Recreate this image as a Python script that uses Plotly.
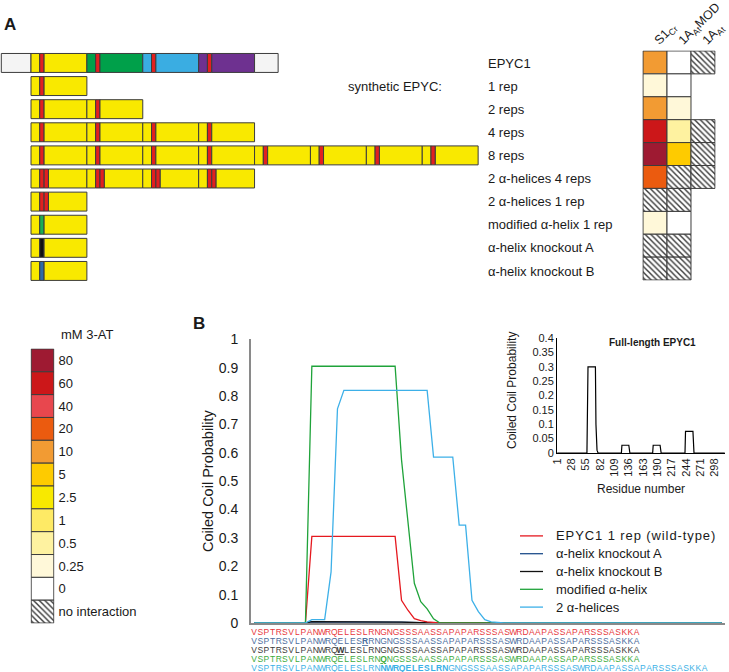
import plotly.graph_objects as go

W, H = 729, 672
def fx(p):
    return p / W
def fy(p):
    return 1 - p / H

FONT = "Liberation Sans, Arial, sans-serif"
TXT = "#1a1a1a"

# ---------------- Panel A: construct diagrams ----------------
construct_names = ["EPYC1", "1 rep", "2 reps", "4 reps", "8 reps",
                   "2 α-helices 4 reps", "2 α-helices 1 rep",
                   "modified α-helix 1 rep", "α-helix knockout A", "α-helix knockout B"]
construct_repeats = [4, 1, 2, 4, 8, 4, 1, 1, 1, 1]
construct_helix = ["wt", "wt", "wt", "wt", "wt", "double", "double", "modified", "koA", "koB"]
epyc1_domain_colors = ["yellow", "green", "blue", "purple"]
nterm_len, cterm_len = 34, 27          # residues
head_len, helix_len, body_len = 10, 5, 49

# ---------------- Panel A: yeast two-hybrid heatmap ----------------
heat_columns = ["S1<sub>Cr</sub>", "1A<sub>At</sub>MOD", "1A<sub>At</sub>"]
heat_s1cr = ["10", "0.25", "10", "60", "80", "20", "NI", "0.25", "NI", "NI"]
heat_1aatmod = ["0", "0", "0.25", "0.5", "5", "NI", "NI", "0", "NI", "NI"]
heat_1aat = ["NI", None, None, "NI", "NI", "NI", None, None, None, None]

key_levels = ["80", "60", "40", "20", "10", "5", "2.5", "1", "0.5", "0.25", "0", "no interaction"]
key_colors = ["#9E1A32", "#CC1719", "#E8474E", "#EB5B0F", "#F29B33", "#FECB00",
              "#F8E900", "#FEEA65", "#FEF2A0", "#FFF8D9", "#FFFFFF"]

# ---------------- Panel B: coiled-coil predictions (residue index, probability) ----------------
wt_x = [1, 9, 10, 23, 24, 25, 26, 27, 28, 29, 30, 74]
wt_y = [0, 0, 0.305, 0.305, 0.08, 0.045, 0.015, 0.008, 0.004, 0.001, 0, 0]
koA_x = [1, 9, 10, 23, 24, 27, 30, 74]
koA_y = [0, 0, 0.004, 0.004, 0.003, 0.001, 0, 0]
koB_x = [1, 9, 10, 23, 24, 27, 30, 74]
koB_y = [0, 0, 0.005, 0.005, 0.003, 0.001, 0, 0]
mod_x = [1, 9, 10, 23, 24, 25, 26, 27, 28, 29, 30, 74]
mod_y = [0, 0, 0.905, 0.905, 0.575, 0.35, 0.14, 0.075, 0.05, 0.015, 0, 0]
two_x = [1, 9, 10, 12, 13, 14, 15, 28, 29, 32, 33, 34, 35, 36, 37, 38, 40, 74]
two_y = [0, 0, 0.012, 0.012, 0.18, 0.755, 0.82, 0.82, 0.585, 0.585, 0.345, 0.345,
         0.08, 0.04, 0.012, 0.004, 0, 0]
series_names = ["EPYC1 1 rep (wild-type)", "α-helix knockout A", "α-helix knockout B",
                "modified α-helix", "2 α-helices"]

# inset: full-length EPYC1
full_x = [1, 30, 33, 44, 47, 57, 59, 73, 74, 76, 78, 122, 123, 136, 138,
          181, 182, 195, 197, 242, 243, 257, 259, 317]
full_y = [0, 0, 0.002, 0.002, 0, 0, 0.3, 0.3, 0.1, 0.01, 0, 0, 0.027, 0.027, 0,
          0, 0.027, 0.027, 0, 0, 0.075, 0.075, 0, 0]
full_ticks = [1, 28, 55, 82, 109, 136, 163, 190, 217, 244, 271, 298]

# sequences
seq_wt = "VSPTRSVLPANWRQELESLRNGNGSSSAASSAPAPARSSSASWRDAAPASSAPARSSSASKKA"
seq_koA = "VSPTRSVLPANWRQELESRRNGNGSSSAASSAPAPARSSSASWRDAAPASSAPARSSSASKKA"
seq_koB = "VSPTRSVLPANWRQWLESLRNGNGSSSAASSAPAPARSSSASWRDAAPASSAPARSSSASKKA"
seq_mod = "VSPTRSVLPANWRQELESLRNQNGSSSAASSAPAPARSSSASWRDAAPASSAPARSSSASKKA"
seq_two = "VSPTRSVLPANWRQELESLRNNWRQELESLRNGNGSSSAASSAPAPARSSSASWRDAAPASSAPARSSSASKKA"
seq_list = [seq_wt, seq_koA, seq_koB, seq_mod, seq_two]
seq_mutations = [[], [19], [15], [22], list(range(22, 33))]

# ---------------- styles ----------------
PAL = {"white": "#F4F4F4", "yellow": "#F9E900", "red": "#E2201F", "green": "#00A04A",
       "blue": "#3AADE2", "purple": "#6E3190", "helixmod": "#1BAE54",
       "black": "#121212", "steel": "#2E6BA6"}
HELIX = {"wt": ["red"], "double": ["red", "red"], "modified": ["helixmod"],
         "koA": ["black"], "koB": ["steel"]}
LINE_COLORS = ["#E5191F", "#1F4E8C", "#111111", "#1FA33A", "#3DB0E8"]
SEQ_COLORS = ["#E8373C", "#4D6E9E", "#3a3a3a", "#3CAB3C", "#3BB1E6"]
EDGE = "#3c3c3c"

fig = go.Figure()

# construct bars
for r, (n_rep, htype) in enumerate(zip(construct_repeats, construct_helix)):
    bases, lens, cols = [], [], []
    full = construct_names[r] == "EPYC1"
    pos = 0
    if full:
        bases.append(-nterm_len); lens.append(nterm_len); cols.append(PAL["white"])
    for k in range(n_rep):
        dom = epyc1_domain_colors[k] if full else "yellow"
        helices = HELIX[htype]
        segs = [(dom, head_len)] + [(h, helix_len) for h in helices] + \
               [(dom, body_len - helix_len * (len(helices) - 1))]
        for c, L in segs:
            bases.append(pos); lens.append(L); cols.append(PAL[c]); pos += L
    if full:
        bases.append(pos); lens.append(cterm_len); cols.append(PAL["white"])
    fig.add_trace(go.Bar(orientation="h", y=[r] * len(bases), x=lens, base=bases,
                         marker=dict(color=cols, line=dict(color=EDGE, width=1)),
                         width=0.82, xaxis="x4", yaxis="y4", showlegend=False,
                         hoverinfo="skip"))

# heatmap cells
level_color = dict(zip(key_levels[:-1], key_colors))
fb, fyy, fc, hb, hy = [], [], [], [], []
for c, col in enumerate([heat_s1cr, heat_1aatmod, heat_1aat]):
    for r, v in enumerate(col):
        if v is None:
            continue
        if v == "NI":
            hb.append(c); hy.append(r)
        else:
            fb.append(c); fyy.append(r); fc.append(level_color[v])
fig.add_trace(go.Bar(orientation="h", y=fyy, x=[1] * len(fb), base=fb,
                     marker=dict(color=fc, line=dict(color=EDGE, width=1)), width=1,
                     xaxis="x5", yaxis="y5", showlegend=False, hoverinfo="skip"))
HATCH = dict(shape="\\", fgcolor="#3a3a3a", bgcolor="white", size=4, solidity=0.35)
fig.add_trace(go.Bar(orientation="h", y=hy, x=[1] * len(hb), base=hb,
                     marker=dict(color="white", pattern=HATCH, line=dict(color=EDGE, width=1)),
                     width=1, xaxis="x5", yaxis="y5", showlegend=False, hoverinfo="skip"))

# colour key
nk = len(key_colors)
fig.add_trace(go.Bar(orientation="h", y=list(range(nk)), x=[1] * nk, base=[0] * nk,
                     marker=dict(color=key_colors, line=dict(color=EDGE, width=1)), width=1,
                     xaxis="x6", yaxis="y6", showlegend=False, hoverinfo="skip"))
fig.add_trace(go.Bar(orientation="h", y=[nk], x=[1], base=[0],
                     marker=dict(color="white", pattern=HATCH, line=dict(color=EDGE, width=1)),
                     width=1, xaxis="x6", yaxis="y6", showlegend=False, hoverinfo="skip"))

# main coiled coil lines (light blue drawn last)
series = [(koA_x, koA_y, 1), (koB_x, koB_y, 2), (wt_x, wt_y, 0), (mod_x, mod_y, 3), (two_x, two_y, 4)]
for xs, ys, i in series:
    fig.add_trace(go.Scatter(x=xs, y=ys, mode="lines", name=series_names[i],
                             line=dict(color=LINE_COLORS[i], width=1.3),
                             showlegend=False, xaxis="x", yaxis="y", hoverinfo="skip"))

# manual legend (line samples + labels)
for i, name in enumerate(series_names):
    fig.add_trace(go.Scatter(x=[0, 1], y=[i, i], mode="lines",
                             line=dict(color=LINE_COLORS[i], width=1.3),
                             showlegend=False, xaxis="x7", yaxis="y7", hoverinfo="skip"))

# inset
fig.add_trace(go.Scatter(x=full_x, y=full_y, mode="lines", line=dict(color="black", width=1.2),
                         xaxis="x2", yaxis="y2", showlegend=False, hoverinfo="skip"))

# sequences
for k, (s, muts) in enumerate(zip(seq_list, seq_mutations)):
    chars = []
    for i, ch in enumerate(s, start=1):
        chars.append(f"<b><u>{ch}</u></b>" if i in muts else ch)
    fig.add_trace(go.Scatter(x=list(range(1, len(s) + 1)), y=[k] * len(s), mode="text",
                             text=chars, textposition="middle center",
                             textfont=dict(color=SEQ_COLORS[k], size=8.5, family=FONT),
                             xaxis="x3", yaxis="y3", showlegend=False, hoverinfo="skip",
                             cliponaxis=False))

ax0 = dict(showgrid=False, zeroline=False, fixedrange=True, automargin=False)
hidden = dict(ax0, visible=False)

legend_labels = [f'<span style="letter-spacing:0.9px">{series_names[0]}</span>'] + series_names[1:]
legend_annots = [dict(text=lab, x=fx(554), y=i, xref="paper", yref="y7",
                      xanchor="left", yanchor="middle", showarrow=False, font=dict(size=13))
                 for i, lab in enumerate(legend_labels)]

char_px = 6.17
seq_pitch = 9.0
seq_top = 628.5
fig.update_layout(
    template="none",
    width=W, height=H, margin=dict(l=0, r=0, t=0, b=0, autoexpand=False),
    paper_bgcolor="white", plot_bgcolor="rgba(0,0,0,0)",
    font=dict(family=FONT, color=TXT, size=13),
    barmode="overlay", bargap=0,
    showlegend=False,
    xaxis=dict(ax0, domain=[fx(251), fx(725)], range=[0.5, 74.5], showline=True,
               linecolor="#8a8a8a", linewidth=2, showticklabels=False, ticks="", anchor="y"),
    yaxis=dict(ax0, domain=[fy(623), fy(339)], range=[0, 1.001], showline=True,
               linecolor="#8a8a8a", linewidth=2, ticks="",
               tickvals=[i / 10 for i in range(11)],
               ticktext=["0"] + [f"0.{i}" for i in range(1, 10)] + ["1"],
               tickfont=dict(size=14), ticklabelstandoff=8, anchor="x"),
    xaxis2=dict(ax0, domain=[fx(557), fx(725)], range=[0.5, 317.5], showline=True,
                linecolor="black", linewidth=1, ticks="", tickvals=full_ticks,
                tickangle=-90, tickfont=dict(size=11), anchor="y2"),
    yaxis2=dict(ax0, domain=[fy(453), fy(338)], range=[0, 0.4005], showline=True,
                linecolor="black", linewidth=1, ticks="",
                tickvals=[i * 0.05 for i in range(9)],
                ticktext=["0", "0.05", "0.1", "0.15", "0.2", "0.25", "0.3", "0.35", "0.4"],
                tickfont=dict(size=11), anchor="x2"),
    xaxis3=dict(hidden, domain=[fx(251), fx(725)], range=[0.5, 0.5 + 474 / char_px], anchor="y3"),
    yaxis3=dict(hidden, domain=[0, fy(seq_top)],
                range=[-0.5 + (H - seq_top) / seq_pitch, -0.5], anchor="x3"),
    xaxis4=dict(hidden, domain=[0, fx(479)], range=[-35.5, 513], anchor="y4"),
    yaxis4=dict(ax0, domain=[fy(282.5), fy(51.4)], range=[9.5, -0.5], side="right",
                showline=False, ticks="", tickvals=list(range(10)), ticktext=construct_names,
                tickfont=dict(size=13), ticklabelstandoff=8, anchor="x4"),
    xaxis5=dict(ax0, domain=[fx(642.3), fx(715.7)], range=[-0.03, 3.03], side="top",
                showline=False, ticks="", tickvals=[0.5, 1.5, 2.5], ticktext=heat_columns,
                tickangle=-45, tickfont=dict(size=12.5), anchor="y5"),
    yaxis5=dict(hidden, domain=[fy(280.5), fy(50.5)], range=[9.52, -0.52], anchor="x5"),
    xaxis6=dict(hidden, domain=[fx(30.5), fx(54.5)], range=[-0.03, 1.03], anchor="y6"),
    yaxis6=dict(ax0, domain=[fy(623.5), fy(348.5)], range=[11.52, -0.52], side="right",
                showline=False, ticks="", tickvals=list(range(12)), ticktext=key_levels,
                tickfont=dict(size=13), ticklabelstandoff=3, anchor="x6"),
    xaxis7=dict(hidden, domain=[fx(520), fx(543)], range=[0, 1], anchor="y7"),
    yaxis7=dict(hidden, domain=[fy(616), fy(527)], range=[4.5, -0.5], anchor="x7"),
    annotations=[
        dict(text="<b>A</b>", x=fx(2), y=fy(25), xref="paper", yref="paper",
             xanchor="left", yanchor="middle", showarrow=False, font=dict(size=17)),
        dict(text="<b>B</b>", x=fx(191), y=fy(323), xref="paper", yref="paper",
             xanchor="left", yanchor="middle", showarrow=False, font=dict(size=17)),
        dict(text="synthetic EPYC:", x=fx(444), y=fy(87), xref="paper", yref="paper",
             xanchor="right", yanchor="middle", showarrow=False, font=dict(size=13)),
        dict(text="mM 3-AT", x=fx(59), y=fy(334), xref="paper", yref="paper",
             xanchor="left", yanchor="middle", showarrow=False, font=dict(size=13)),
        dict(text="Coiled Coil Probability", x=fx(208), y=fy(481), xref="paper", yref="paper",
             xanchor="center", yanchor="middle", textangle=-90, showarrow=False,
             font=dict(size=14.5)),
        dict(text="Coiled Coil Probability", x=fx(512), y=fy(390), xref="paper", yref="paper",
             xanchor="center", yanchor="middle", textangle=-90, showarrow=False,
             font=dict(size=12)),
        dict(text="Residue number", x=fx(641), y=fy(489), xref="paper", yref="paper",
             xanchor="center", yanchor="middle", showarrow=False, font=dict(size=12)),
        dict(text="<b>Full-length EPYC1</b>", x=fx(652), y=fy(342), xref="paper", yref="paper",
             xanchor="center", yanchor="middle", showarrow=False, font=dict(size=10)),
    ] + legend_annots,
)

fig.write_html("out.html", config={"displayModeBar": False, "staticPlot": True},
               post_script="document.body.style.margin='0';document.body.style.overflow='hidden';")
